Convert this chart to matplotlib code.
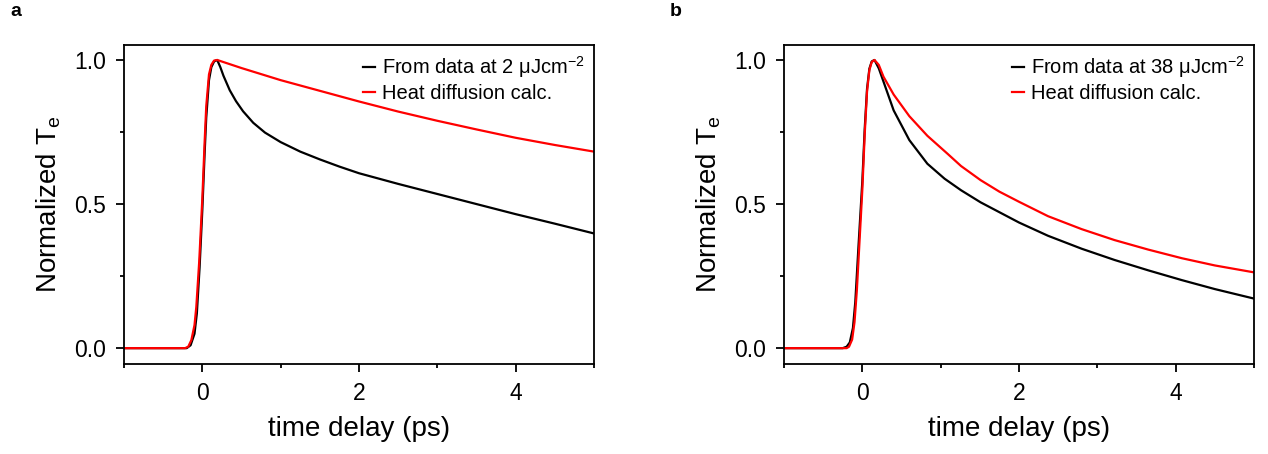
import matplotlib
matplotlib.use('Agg')
import matplotlib.pyplot as plt
from matplotlib.ticker import MultipleLocator

plt.rcParams['font.family'] = ['Liberation Sans', 'DejaVu Sans']
plt.rcParams['mathtext.default'] = 'regular'

# panel a: 2 uJ/cm^2
t_a_data = [-1.0, -0.2, -0.15, -0.1, -0.07, -0.035, 0.0, 0.03, 0.05, 0.085, 0.115, 0.15, 0.19,
            0.23, 0.27, 0.35, 0.43, 0.52, 0.65, 0.8, 1.0, 1.25, 1.5, 1.75, 2.0, 2.5, 3.0, 3.5, 4.0, 4.5, 5.0]
T_a_data = [0.0, 0.0, 0.01, 0.05, 0.12, 0.28, 0.48, 0.68, 0.8, 0.93, 0.975, 0.995, 1.0,
            0.975, 0.945, 0.895, 0.857, 0.822, 0.782, 0.748, 0.715, 0.682, 0.655, 0.63, 0.607, 0.57, 0.535, 0.5, 0.465, 0.432, 0.398]
t_a_calc = [-1.0, -0.22, -0.18, -0.14, -0.1, -0.077, -0.04, 0.0, 0.03, 0.05, 0.085, 0.115, 0.15, 0.19,
            0.5, 1.0, 1.5, 2.0, 2.5, 3.0, 3.5, 4.0, 4.5, 5.0]
T_a_calc = [0.0, 0.0, 0.005, 0.028, 0.08, 0.143, 0.3, 0.52, 0.72, 0.84, 0.95, 0.983, 0.998, 1.0,
            0.972, 0.93, 0.893, 0.856, 0.821, 0.789, 0.759, 0.73, 0.705, 0.682]

# panel b: 38 uJ/cm^2
t_b_data = [-1.0, -0.25, -0.2, -0.16, -0.12, -0.09, -0.05, 0.0, 0.03, 0.06, 0.09, 0.12, 0.155,
            0.21, 0.27, 0.4, 0.6, 0.83, 1.05, 1.26, 1.51, 2.0, 2.37, 2.8, 3.22, 3.65, 4.08, 4.5, 5.0]
T_b_data = [0.0, 0.0, 0.005, 0.02, 0.07, 0.16, 0.35, 0.58, 0.76, 0.9, 0.97, 0.995, 1.0,
            0.971, 0.925, 0.825, 0.722, 0.64, 0.588, 0.548, 0.506, 0.436, 0.39, 0.345, 0.306, 0.27, 0.236, 0.205, 0.172]
t_b_calc = [-1.0, -0.2, -0.17, -0.13, -0.1, -0.07, -0.04, 0.0, 0.03, 0.06, 0.09, 0.12, 0.155,
            0.21, 0.27, 0.4, 0.6, 0.83, 1.09, 1.26, 1.51, 1.75, 2.0, 2.37, 2.8, 3.22, 3.65, 4.08, 4.5, 5.0]
T_b_calc = [0.0, 0.0, 0.005, 0.03, 0.09, 0.2, 0.35, 0.55, 0.74, 0.89, 0.965, 0.993, 1.0,
            0.983, 0.942, 0.88, 0.805, 0.737, 0.674, 0.632, 0.583, 0.543, 0.508, 0.458, 0.413, 0.375, 0.342, 0.312, 0.287, 0.263]

panels = [
    ('a', 2, t_a_data, T_a_data, t_a_calc, T_a_calc),
    ('b', 38, t_b_data, T_b_data, t_b_calc, T_b_calc),
]

fig = plt.figure(figsize=(12.68, 4.54), dpi=100)
lefts = [124 / 1268, 784 / 1268]
for (tag, fluence, td, Td, tc, Tc), left in zip(panels, lefts):
    ax = fig.add_axes([left, 90 / 454, 470 / 1268, 319 / 454])
    ax.plot(td, Td, color='black', lw=1.6, label='From data at %d \u03bcJcm$^{-2}$' % fluence)
    ax.plot(tc, Tc, color='red', lw=1.6, label='Heat diffusion calc.')
    ax.set_xlim(-1, 5)
    ax.set_ylim(-0.055, 1.052)
    ax.xaxis.set_major_locator(MultipleLocator(2))
    ax.xaxis.set_minor_locator(MultipleLocator(1))
    ax.yaxis.set_major_locator(MultipleLocator(0.5))
    ax.yaxis.set_minor_locator(MultipleLocator(0.25))
    ax.tick_params(which='major', direction='out', length=6, width=1.3, labelsize=16.5, pad=7)
    ax.tick_params(which='minor', direction='out', length=3, width=1.3)
    for s in ax.spines.values():
        s.set_linewidth(1.3)
    ax.set_xlabel('time delay (ps)', fontsize=20, labelpad=8)
    ax.set_ylabel('Normalized T$_e$', fontsize=20, labelpad=8)
    ax.legend(loc='upper right', frameon=False, fontsize=14.5, handlelength=0.6,
              handletextpad=0.35, labelspacing=0.2, borderaxespad=0.05)
    fig.text(left - 114 / 1268, 1 - 12 / 454, tag, fontsize=14, fontweight='bold', va='center')

fig.savefig('out.png', dpi=100)
